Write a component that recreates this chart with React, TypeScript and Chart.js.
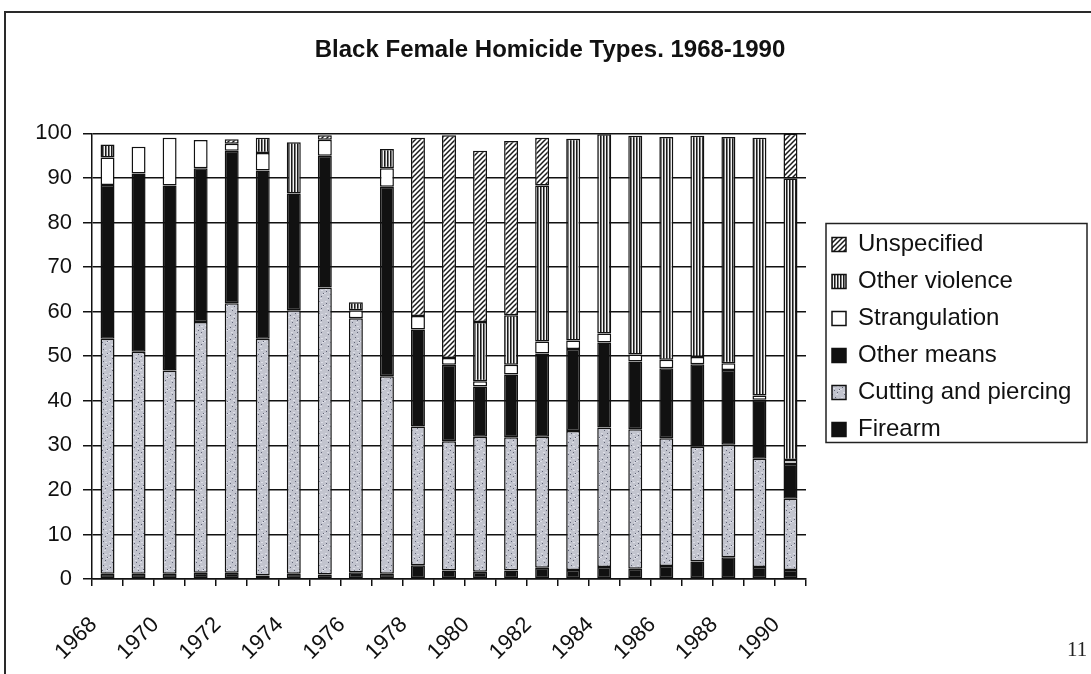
import React, { useEffect, useRef } from 'react';
import { Chart, registerables } from 'chart.js';

Chart.register(...registerables);

const years = [
  '1968', '1969', '1970', '1971', '1972', '1973', '1974', '1975', '1976', '1977', '1978', '1979',
  '1980', '1981', '1982', '1983', '1984', '1985', '1986', '1987', '1988', '1989', '1990',
];

const firearm = [1.2, 1.2, 1.2, 1.4, 1.4, 0.8, 1.2, 1.0, 1.5, 1.2, 3.1, 1.9, 1.6, 1.9, 2.5, 2.0, 2.7, 2.3, 2.9, 3.9, 4.9, 2.7, 2.0];
const cuttingPiercing = [52.7, 49.8, 45.6, 56.3, 60.5, 53.1, 59.1, 64.4, 57.0, 44.3, 31.1, 29.0, 30.3, 29.9, 29.4, 31.2, 31.3, 31.3, 28.7, 25.8, 25.2, 24.3, 16.0];
const otherMeans = [34.5, 40.0, 41.5, 34.5, 34.2, 37.8, 26.2, 29.6, 0, 42.5, 21.8, 17.2, 11.3, 14.1, 18.7, 18.4, 19.1, 15.2, 15.7, 18.5, 16.8, 13.2, 7.8];
const strangulation = [6.2, 6.0, 10.7, 6.3, 1.6, 3.9, 0, 3.6, 1.8, 4.2, 3.0, 1.5, 1.2, 2.2, 2.7, 1.9, 2.0, 1.6, 1.9, 1.6, 1.5, 1.0, 0.9];
const otherViolence = [2.9, 0, 0, 0, 0, 3.4, 11.5, 0, 1.8, 4.3, 0, 0, 13.3, 11.1, 35.0, 45.3, 44.7, 49.1, 50.0, 49.7, 50.8, 57.8, 63.2];
const unspecified = [0, 0, 0, 0, 1.0, 0, 0, 1.0, 0, 0, 40.0, 50.0, 38.4, 39.1, 10.7, 0, 0, 0, 0, 0, 0, 0, 10.0];

const seriesNames = ['Firearm', 'Cutting and piercing', 'Other means', 'Strangulation', 'Other violence', 'Unspecified'];
const yTicks = [0, 10, 20, 30, 40, 50, 60, 70, 80, 90, 100];

const FONT = '"Liberation Sans", Arial, sans-serif';
const INK = '#111111';
const LEGEND_SIZE = 24;

function makeCanvas(w: number, h: number) {
  const c = document.createElement('canvas');
  c.width = w;
  c.height = h;
  return c;
}

function speckle(ctx: CanvasRenderingContext2D): CanvasPattern | string {
  const c = makeCanvas(12, 12);
  const g = c.getContext('2d')!;
  g.fillStyle = '#c2c4ce';
  g.fillRect(0, 0, 12, 12);
  g.fillStyle = '#dcdde6';
  [[1, 1], [5, 4], [9, 2], [3, 8], [8, 10], [10, 6], [0, 5]].forEach(([x, y]) => g.fillRect(x, y, 2, 1));
  g.fillStyle = '#5f6275';
  [[2, 3], [7, 1], [9, 8], [4, 10], [11, 5], [6, 6]].forEach(([x, y]) => g.fillRect(x, y, 1, 1));
  return ctx.createPattern(c, 'repeat') || '#c2c4ce';
}

function vStripes(ctx: CanvasRenderingContext2D): CanvasPattern | string {
  const c = makeCanvas(3, 3);
  const g = c.getContext('2d')!;
  g.fillStyle = '#f4f4f4';
  g.fillRect(0, 0, 3, 3);
  g.fillStyle = '#1a1a1a';
  g.fillRect(0, 0, 1, 3);
  g.fillStyle = '#7a7a7a';
  g.fillRect(1, 0, 1, 3);
  return ctx.createPattern(c, 'repeat') || '#888';
}

function hatch(ctx: CanvasRenderingContext2D): CanvasPattern | string {
  const s = 5;
  const c = makeCanvas(s, s);
  const g = c.getContext('2d')!;
  g.fillStyle = '#ffffff';
  g.fillRect(0, 0, s, s);
  g.strokeStyle = '#1a1a1a';
  g.lineWidth = 1.5;
  g.beginPath();
  g.moveTo(-1, s + 1);
  g.lineTo(s + 1, -1);
  g.moveTo(-1, 1);
  g.lineTo(1, -1);
  g.moveTo(s - 1, s + 1);
  g.lineTo(s + 1, s - 1);
  g.stroke();
  return ctx.createPattern(c, 'repeat') || '#999';
}

const decorPlugin = {
  id: 'decor',
  beforeDraw(chart: any) {
    const ctx = chart.ctx as CanvasRenderingContext2D;
    ctx.save();
    ctx.fillStyle = '#ffffff';
    ctx.fillRect(0, 0, chart.width, chart.height);
    ctx.strokeStyle = '#2a2a2a';
    ctx.lineWidth = 2;
    ctx.beginPath();
    ctx.moveTo(5, chart.height);
    ctx.lineTo(5, 12);
    ctx.lineTo(chart.width, 12);
    ctx.stroke();
    ctx.restore();
  },
  afterDraw(chart: any) {
    const ctx = chart.ctx as CanvasRenderingContext2D;
    const lg = chart.legend;
    ctx.save();
    if (lg && lg.legendHitBoxes && lg.legendHitBoxes.length) {
      const hb = lg.legendHitBoxes;
      const x0 = lg.left + 7;
      const y0 = hb[0].top - 9;
      const last = hb[hb.length - 1];
      const y1 = last.top + last.height + 1;
      ctx.strokeStyle = '#222';
      ctx.lineWidth = 1.5;
      ctx.strokeRect(x0, y0, 261, y1 - y0);
    }
    ctx.fillStyle = '#222';
    ctx.font = '21px "Liberation Serif", serif';
    ctx.textBaseline = 'alphabetic';
    ctx.fillText('11', 1067, 656);
    ctx.restore();
  },
};

export default function App() {
  const ref = useRef<HTMLCanvasElement>(null);

  useEffect(() => {
    const canvas = ref.current;
    if (!canvas) return;
    const ctx = canvas.getContext('2d')!;
    const fills = [INK, speckle(ctx), INK, '#ffffff', vStripes(ctx), hatch(ctx)];
    const values = [firearm, cuttingPiercing, otherMeans, strangulation, otherViolence, unspecified];

    // legend natural width, so the plot area ends at x=806 and the legend starts at x=819
    ctx.save();
    ctx.font = `normal ${LEGEND_SIZE}px ${FONT}`;
    const textW = Math.max(...seriesNames.map((n) => ctx.measureText(n).width));
    ctx.restore();
    const legendW = 13 + 14 + LEGEND_SIZE / 2 + textW + 10;
    const padRight = Math.max(0, 1091 - 819 - legendW);
    const padLeft = 9 + padRight;

    const chart = new Chart(ctx, {
      type: 'bar',
      data: {
        labels: years,
        datasets: seriesNames.map((name, i) => ({
          label: name,
          data: values[i],
          backgroundColor: fills[i] as any,
          borderColor: INK,
          borderWidth: 1.5,
          borderSkipped: false,
          barPercentage: 0.45,
          categoryPercentage: 1,
          stack: 'all',
        })),
      },
      options: {
        responsive: false,
        devicePixelRatio: 1,
        animation: false,
        layout: { padding: { left: padLeft, right: padRight, top: 0, bottom: 0 } },
        plugins: {
          title: {
            display: true,
            text: 'Black Female Homicide Types. 1968-1990',
            color: INK,
            font: { family: FONT, size: 24, weight: 'bold' },
            padding: { top: 36, bottom: 68.6 },
          },
          legend: {
            display: true,
            position: 'right',
            reverse: true,
            maxWidth: 500,
            labels: {
              color: INK,
              boxWidth: 14,
              boxHeight: 14,
              padding: 13,
              font: { family: FONT, size: LEGEND_SIZE },
            },
          },
          tooltip: { enabled: false },
        },
        scales: {
          x: {
            stacked: true,
            offset: true,
            grid: { display: true, drawOnChartArea: false, drawTicks: true, tickLength: 7, color: INK, lineWidth: 1.5, offset: true },
            border: { display: true, color: INK, width: 1.5 },
            ticks: {
              autoSkip: false,
              maxRotation: 45,
              minRotation: 45,
              padding: 26,
              labelOffset: -14,
              color: INK,
              font: { family: FONT, size: 22 },
              callback: (_v: any, i: number) => (i % 2 === 0 ? years[i] : ''),
            },
            afterFit: (s: any) => {
              s.height = 95;
            },
          },
          y: {
            stacked: true,
            min: 0,
            max: 100,
            grid: { color: INK, lineWidth: 1.5, tickLength: 9, drawTicks: true },
            border: { display: true, color: INK, width: 1.5 },
            ticks: {
              stepSize: 10,
              padding: 11,
              color: INK,
              font: { family: FONT, size: 22 },
              callback: (v: any) => (yTicks.includes(Number(v)) ? String(v) : ''),
            },
            afterFit: (s: any) => {
              s.width = 92 - padLeft;
            },
          },
          gap: {
            type: 'linear',
            position: 'right',
            display: true,
            grid: { display: false, drawTicks: false },
            border: { display: false },
            ticks: { display: false },
            afterFit: (s: any) => {
              s.width = 13;
            },
          },
        },
      } as any,
      plugins: [decorPlugin],
    });

    return () => chart.destroy();
  }, []);

  return (
    <div style={{ position: 'fixed', left: 0, top: 0, width: 1091, height: 674, background: '#fff' }}>
      <canvas ref={ref} width={1091} height={674} style={{ display: 'block', width: 1091, height: 674 }} />
    </div>
  );
}
